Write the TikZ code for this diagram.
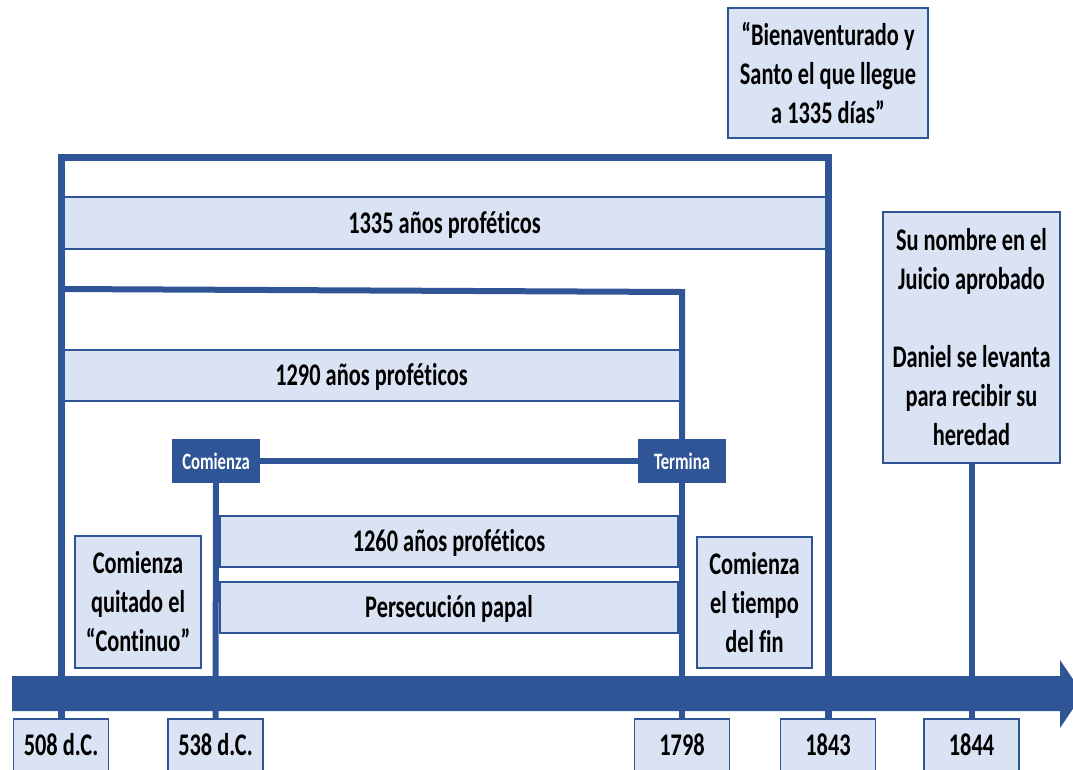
\documentclass[tikz,border=0pt]{standalone}
\usepackage{fontspec}
\setmainfont[FakeStretch=0.71, RawFeature={-liga;-clig;-calt;-dlig}]{Carlito}
\usetikzlibrary{positioning}

\definecolor{lineBlue}{RGB}{47,85,151}
\definecolor{boxFill}{RGB}{218,227,243}

\tikzset{
    infobox/.style={draw=lineBlue, line width=1.5pt, fill=boxFill, inner sep=0pt,
        align=center, font=\bfseries\fontsize{31.5}{39}\selectfont},
    bandbox/.style={infobox, text height=20pt, text depth=0pt},
    datebox/.style={bandbox, minimum width=95pt, minimum height=52pt},
    tagbox/.style={fill=lineBlue, text=white, inner sep=0pt, minimum width=88pt,
        minimum height=44pt, font=\bfseries\fontsize{23.5}{28}\selectfont},
    bar/.style={draw=lineBlue, line width=6pt, line join=miter}
}

\begin{document}
\begin{tikzpicture}[x=1pt, y=-1pt]

        \useasboundingbox (0,0) rectangle (1073,769);
        \clip (0,0) rectangle (1073,769);

        % Time axis (thick arrow)
        \fill[lineBlue] (12,676) -- (1060,676) -- (1060,660) -- (1083,694)
            -- (1060,728) -- (1060,711) -- (12,711) -- cycle;

        % Periods
        \node[bandbox, minimum width=765pt, minimum height=52pt] (b1335) at (444.5,223)
            {1335 años proféticos};
        \node[bandbox, minimum width=619pt, minimum height=51pt] (b1290) at (371.5,375.5)
            {1290 años proféticos};
        \node[bandbox, minimum width=458pt, minimum height=51pt] (b1260) at (449,541.5)
            {1260 años proféticos};
        \node[bandbox, minimum width=458pt, minimum height=51pt] (papal) at (449,607.5)
            {Persecución papal};

        % Notes
        \node[infobox, minimum width=126pt, minimum height=132pt] (quitado) at (138,602)
            {Comienza\\quitado el\\“Continuo”};
        \node[infobox, minimum width=115pt, minimum height=131pt] (tiempo) at (754.5,602.5)
            {Comienza\\el tiempo\\del fin};
        \node[infobox, minimum width=200pt, minimum height=130pt] (santo) at (828,73)
            {“Bienaventurado y\\Santo el que llegue\\a 1335 días”};
        \node[infobox, minimum width=177pt, minimum height=251pt] (juicio) at (971.5,337.5)
            {Su nombre en el\\Juicio aprobado\\[39pt]Daniel se levanta\\para recibir su\\heredad};

        % Dates
        \node[datebox] (d508) at (61,745) {508 d.C.};
        \node[datebox] (d538) at (215.5,745) {538 d.C.};
        \node[datebox] (d1798) at (682,745) {1798};
        \node[datebox] (d1843) at (828,745) {1843};
        \node[datebox] (d1844) at (971.5,745) {1844};

        % Brackets
        \coordinate (topL) at (61,157);
        \coordinate (topR) at (828,157);
        \coordinate (midL) at (61,289);
        \coordinate (midR) at (682,292);

        \node[tagbox] (com) at (216,461) {Comienza};
        \node[tagbox] (ter) at (682,461) {Termina};

        \draw[bar, line width=7pt] (d508.north) -- (topL) -- (topR) -- (d1843.north);
        \draw[bar] (midL) -- (midR) -- (ter.north);
        \draw[bar] (ter.south) -- (d1798.north);
        \draw[bar] (com.east) -- (ter.west);
        \draw[bar] (com.south) -- (d538.north);
        \draw[bar] (juicio.south) -- (d1844.north);

\end{tikzpicture}
\end{document}
